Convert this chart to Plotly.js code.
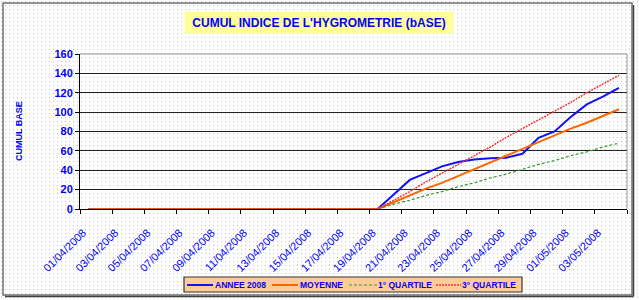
<!DOCTYPE html>
<html>
<head>
<meta charset="utf-8">
<script src="https://cdn.plot.ly/plotly-3.0.1.min.js"></script>
<style>
  html, body { margin: 0; padding: 0; }
  body {
    width: 639px; height: 300px; overflow: hidden;
    background-color: #ffffff;
    background-image: url("data:image/svg+xml;utf8,<svg xmlns='http://www.w3.org/2000/svg' width='4' height='4'><rect x='1' y='1' width='1' height='1' fill='%23c4c4c4'/></svg>");
    background-size: 4px 4px;
  }
  #chart { width: 639px; height: 300px; }
</style>
</head>
<body>
<div id="chart"></div>
<script>
// ---- data ----
const dates = [
  "01/04/2008","02/04/2008","03/04/2008","04/04/2008","05/04/2008","06/04/2008",
  "07/04/2008","08/04/2008","09/04/2008","10/04/2008","11/04/2008","12/04/2008",
  "13/04/2008","14/04/2008","15/04/2008","16/04/2008","17/04/2008","18/04/2008",
  "19/04/2008","20/04/2008","21/04/2008","22/04/2008","23/04/2008","24/04/2008",
  "25/04/2008","26/04/2008","27/04/2008","28/04/2008","29/04/2008","30/04/2008",
  "01/05/2008","02/05/2008","03/05/2008","04/05/2008"
];
const annee2008 = [0,0,0,0,0,0,0,0,0,0,0,0,0,0,0,0,0,0,0,
  15,30,37,44,48.5,51,52.5,53,57,73.5,80,95,108,116,125];
const moyenne = [0,0,0,0,0,0,0,0,0,0,0,0,0,0,0,0,0,0,0,
  7,14,21,27,34,41,48,55,62,69,76,83,89,96,103];
const quartile1 = [0,0,0,0,0,0,0,0,0,0,0,0,0,0,0,0,0,0,0,
  5,9,14,18,23,27,32,36,41,46,50,55,59,64,68];
const quartile3 = [0,0,0,0,0,0,0,0,0,0,0,0,0,0,0,0,0,0,0,
  9,18,28,37,46,55,64,74,83,92,101,110,120,129,138];
const seriesNames = ["ANNEE 2008", "MOYENNE", "1° QUARTILE", "3° QUARTILE"];
const titleText = "CUMUL INDICE DE L'HYGROMETRIE (bASE)";
const yTitleText = "CUMUL BASE";

// ---- styling / geometry ----
const W = 639, H = 300;
const L = 80, R = 627, T = 54, B = 209;
const pw = R - L, ph = B - T;
const px = x => (x - L) / pw;
const py = y => (B - y) / ph;

const blue = "#0000ff";
const fontFam = "Arial, 'Liberation Sans', sans-serif";
const lineStyles = [
  { color: "#1010ff", width: 2 },
  { color: "#ff6600", width: 2 },
  { color: "#339933", width: 1.2, dash: "3px,2px" },
  { color: "#ff3333", width: 1.5, dash: "2px,1px" }
];
const seriesData = [annee2008, moyenne, quartile1, quartile3];

const traces = seriesData.map((vals, i) => ({
  x: dates, y: vals, name: seriesNames[i], type: "scatter", mode: "lines",
  line: lineStyles[i]
}));

// custom legend (compact, like the Excel original)
const legendBox = { x0: 184, x1: 522, y0: 277, y1: 292, yMid: 285 };
const legendItems = [
  { l0: 187, l1: 213, t: 214 },
  { l0: 272, l1: 298, t: 299 },
  { l0: 349, l1: 377, t: 377 },
  { l0: 436, l1: 461, t: 461 }
];

const shapes = [
  // plot area border (top & right)
  { type: "line", xref: "paper", yref: "paper", x0: 0, x1: 1, y0: 1, y1: 1,
    line: { color: "#909090", width: 1 }, layer: "above" },
  { type: "line", xref: "paper", yref: "paper", x0: 1, x1: 1, y0: 0, y1: 1,
    line: { color: "#909090", width: 1 }, layer: "above" },
  // outer frame
  { type: "rect", xref: "paper", yref: "paper", x0: px(3), x1: px(632), y0: py(295), y1: py(3),
    line: { color: "#707070", width: 1.5 }, layer: "below" },
  { type: "line", xref: "paper", yref: "paper", x0: px(633.5), x1: px(633.5), y0: py(296.5), y1: py(5),
    line: { color: "#404040", width: 1.5 }, layer: "below" },
  { type: "line", xref: "paper", yref: "paper", x0: px(5), x1: px(633.5), y0: py(296.5), y1: py(296.5),
    line: { color: "#404040", width: 1.5 }, layer: "below" },
  // legend box
  { type: "rect", xref: "paper", yref: "paper",
    x0: px(legendBox.x0), x1: px(legendBox.x1), y0: py(legendBox.y1), y1: py(legendBox.y0),
    fillcolor: "#ffcc99", line: { color: "#333333", width: 1.2 }, layer: "above" }
];
const annotations = [
  { xref: "paper", yref: "paper", x: px(319), y: py(22.5), xanchor: "center", yanchor: "middle",
    text: "<b>" + titleText + "</b>", showarrow: false,
    bgcolor: "#ffff99", width: 266, height: 19,
    font: { family: fontFam, size: 12, color: blue } },
  { xref: "paper", yref: "paper", x: px(19), y: py(131), xanchor: "center", yanchor: "middle",
    text: "<b>" + yTitleText + "</b>", showarrow: false, textangle: -90,
    font: { family: fontFam, size: 9, color: blue } }
];
legendItems.forEach((it, i) => {
  shapes.push({ type: "line", xref: "paper", yref: "paper",
    x0: px(it.l0), x1: px(it.l1), y0: py(legendBox.yMid), y1: py(legendBox.yMid),
    line: lineStyles[i], layer: "above" });
  annotations.push({ xref: "paper", yref: "paper", x: px(it.t), y: py(legendBox.yMid - 0.5),
    xanchor: "left", yanchor: "middle", showarrow: false, borderpad: 0,
    text: "<b>" + seriesNames[i] + "</b>",
    font: { family: fontFam, size: 8.5, color: blue } });
});

const layout = {
  width: W, height: H,
  margin: { l: L, r: W - R, t: T, b: H - B, pad: 0 },
  paper_bgcolor: "rgba(0,0,0,0)",
  plot_bgcolor: "rgba(0,0,0,0)",
  showlegend: false,
  xaxis: {
    type: "category",
    range: [-0.5, dates.length - 0.5],
    tickmode: "linear", tick0: 0, dtick: 2,
    tickson: "boundaries",
    ticks: "outside", ticklen: 4, tickcolor: "#000", tickwidth: 1,
    tickangle: -45,
    ticklabelstandoff: 12, ticklabelshift: -5,
    tickfont: { family: fontFam, size: 11, color: blue },
    showline: true, linecolor: "#000", linewidth: 1,
    showgrid: false, zeroline: false, automargin: false, fixedrange: true
  },
  yaxis: {
    range: [0, 160], tickmode: "linear", tick0: 0, dtick: 20,
    ticks: "outside", ticklen: 4, tickcolor: "#000", tickwidth: 1,
    tickfont: { family: fontFam, size: 11, color: blue, weight: "bold" },
    showline: true, linecolor: "#000", linewidth: 1,
    showgrid: true, gridcolor: "#222", gridwidth: 1,
    zeroline: false, automargin: false, fixedrange: true
  },
  annotations: annotations,
  shapes: shapes
};

Plotly.newPlot("chart", traces, layout, { displayModeBar: false, staticPlot: true });
</script>
</body>
</html>
